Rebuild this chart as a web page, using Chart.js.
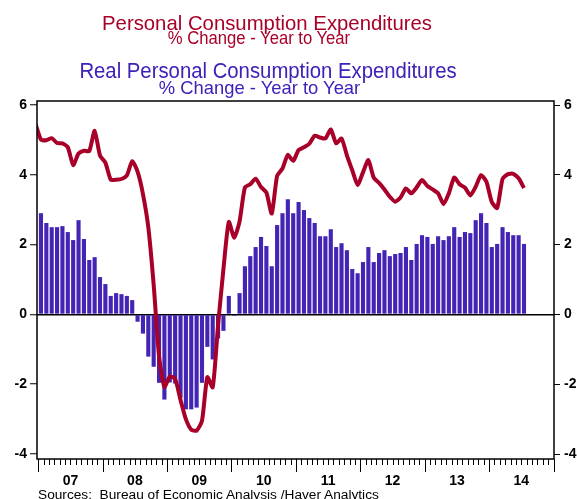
<!DOCTYPE html>
<html>
<head>
<meta charset="utf-8">
<script src="https://cdn.jsdelivr.net/npm/chart.js@4.4.1/dist/chart.umd.min.js"></script>
<style>
  html, body { margin: 0; padding: 0; width: 577px; height: 499px; overflow: hidden; background: #fff; }
  #wrap { position: absolute; left: 0; top: 0; width: 590px; height: 499px; }
  .t { position: absolute; width: 600px; text-align: center; white-space: nowrap;
       font-family: "Liberation Sans", Arial, sans-serif; transform-origin: 50% 50%; }
  #src { position: absolute; left: 38px; top: 487.5px; font-family: "Liberation Sans", Arial, sans-serif;
         font-size: 13.7px; line-height: 13.7px; color: #000; white-space: pre; }
</style>
</head>
<body>
<div id="wrap"><canvas id="c" width="590" height="499"></canvas></div>
<div class="t" style="left:-32.7px; top:11.5px; font-size:21px; line-height:21px; color:#A80028; transform:scaleX(0.968);">Personal Consumption Expenditures</div>
<div class="t" style="left:-41.3px; top:30.2px; font-size:17.5px; line-height:17.5px; color:#A80028; transform:scaleX(0.951);">% Change - Year to Year</div>
<div class="t" style="left:-32.5px; top:61.1px; font-size:21.5px; line-height:21.5px; color:#4020B8; transform:scaleX(0.945);">Real Personal Consumption Expenditures</div>
<div class="t" style="left:-40.5px; top:78.9px; font-size:18.4px; line-height:18.4px; color:#4020B8;">% Change - Year to Year</div>
<div id="src">Sources:  Bureau of Economic Analysis /Haver Analytics</div>
<script>
// Year labels on the x axis (2007 .. 2014)
const yearLabels = ['07', '08', '09', '10', '11', '12', '13', '14'];
// Left / right y-axis tick values
const yTicks = [-4, -2, 0, 2, 4, 6];

// Nominal PCE, % change y/y, monthly from Dec 2006 to Jul 2014
const pceNominal = [
  5.45,
  5.01, 4.99, 5.05, 4.91, 4.90, 4.79, 4.28, 4.61, 4.69, 4.68, 5.26, 4.55,
  4.35, 3.86, 3.86, 3.88, 3.98, 4.39, 4.09, 3.45, 2.50, 0.85, -1.20, -2.08,
  -1.78, -1.85, -2.45, -3.00, -3.30, -3.33, -3.05, -1.80, -2.09, -0.30, 1.30, 2.65,
  2.20, 2.66, 3.64, 3.73, 3.89, 3.65, 3.49, 2.89, 3.97, 4.18, 4.57, 4.40,
  4.71, 4.79, 4.89, 5.12, 5.07, 5.04, 5.30, 4.90, 5.04, 4.56, 4.13, 3.71,
  4.07, 4.42, 3.92, 3.77, 3.58, 3.37, 3.23, 3.35, 3.61, 3.47, 3.64, 3.85,
  3.68, 3.58, 3.47, 3.16, 3.47, 3.92, 3.73, 3.63, 3.41, 3.66, 3.99, 3.80,
  3.22, 3.05, 3.88, 4.02, 4.03, 3.90, 3.62
];

// Real PCE, % change y/y, monthly from Jan 2007 to Jul 2014
const pceReal = [
  2.90, 2.62, 2.50, 2.50, 2.53, 2.36, 2.13, 2.70, 2.16, 1.56, 1.64, 1.07,
  0.87, 0.53, 0.61, 0.58, 0.53, 0.41, -0.21, -0.55, -1.21, -1.50, -1.96, -2.44,
  -1.95, -1.98, -2.39, -2.72, -2.72, -2.67, -1.96, -0.93, -1.29, -0.69, -0.47, 0.53,
  -0.04, 0.61, 1.38, 1.67, 1.93, 2.22, 1.96, 1.38, 2.56, 2.90, 3.30, 2.90,
  3.22, 2.99, 2.76, 2.62, 2.24, 2.24, 2.44, 1.93, 2.04, 1.84, 1.30, 1.18,
  1.50, 1.93, 1.50, 1.76, 1.84, 1.67, 1.73, 1.76, 1.93, 1.56, 2.02, 2.27,
  2.22, 2.02, 2.24, 2.13, 2.24, 2.50, 2.22, 2.36, 2.33, 2.70, 2.90, 2.62,
  1.93, 2.02, 2.50, 2.36, 2.27, 2.27, 2.02
];

// month index 0 = Jan 2007
const nominalPoints = pceNominal.map((v, i) => ({ x: i - 1, y: v }));
const realPoints = pceReal.map((v, i) => ({ x: i, y: v }));

const FONT = "'Liberation Sans', Arial, sans-serif";
const RED = '#A80028';
const BAR = '#4424B4';

const axisDecor = {
  id: 'axisDecor',
  afterDraw(chart) {
    const { ctx, chartArea: a, scales: { x } } = chart;
    ctx.save();
    ctx.strokeStyle = '#000';
    ctx.lineWidth = 1;
    for (let m = 0; m <= yearLabels.length * 12; m++) {
      const px = Math.round(x.getPixelForValue(m - 0.5)) + 0.5;
      const len = m % 12 === 0 ? 13 : 6;
      ctx.beginPath();
      ctx.moveTo(px, a.bottom);
      ctx.lineTo(px, a.bottom + len);
      ctx.stroke();
    }
    ctx.lineWidth = 1.5;
    ctx.strokeRect(a.left, a.top, a.right - a.left, a.bottom - a.top);
    ctx.restore();
  }
};

const yAxisCommon = {
  min: -4.143,
  max: 6.115,
  afterBuildTicks: s => { s.ticks = yTicks.map(v => ({ value: v })); },
  border: { display: false },
  ticks: {
    color: '#000',
    font: { family: FONT, size: 14, weight: 'bold' },
    callback: v => String(v)
  }
};

new Chart(document.getElementById('c'), {
  type: 'bar',
  data: {
    datasets: [
      {
        type: 'line',
        data: nominalPoints,
        borderColor: RED,
        borderWidth: 4,
        pointRadius: 0,
        tension: 0.2,
        fill: false,
        order: 0,
        yAxisID: 'y'
      },
      {
        type: 'bar',
        data: realPoints,
        backgroundColor: BAR,
        borderWidth: 0,
        barPercentage: 0.77,
        categoryPercentage: 1,
        order: 1,
        yAxisID: 'y'
      }
    ]
  },
  plugins: [axisDecor],
  options: {
    responsive: false,
    animation: false,
    devicePixelRatio: 1,
    layout: { padding: { top: 101, left: 0, right: 0, bottom: 0 } },
    plugins: { legend: { display: false }, tooltip: { enabled: false }, title: { display: false } },
    scales: {
      x: {
        type: 'linear',
        min: -0.74,
        max: 95.59,
        offset: false,
        grid: { display: false, drawTicks: true, tickLength: 13 },
        border: { display: false },
        afterBuildTicks: s => { s.ticks = yearLabels.map((_, k) => ({ value: 12 * k + 5.5 })); },
        ticks: {
          autoSkip: false,
          maxRotation: 0,
          padding: 1,
          color: '#000',
          font: { family: FONT, size: 14, weight: 'bold' },
          callback: (v, i) => yearLabels[i]
        },
        afterFit: s => { s.height = 40; }
      },
      y: Object.assign({}, yAxisCommon, {
        position: 'left',
        grid: {
          color: c => (c.tick && c.tick.value === 0) ? '#000' : 'rgba(0,0,0,0)',
          lineWidth: 1.5,
          tickColor: '#000',
          tickWidth: 1,
          tickLength: 7
        },
        ticks: Object.assign({}, yAxisCommon.ticks, { padding: 3 }),
        afterFit: s => { s.width = 37; }
      }),
      y2: Object.assign({}, yAxisCommon, {
        position: 'right',
        grid: { drawOnChartArea: false, tickColor: '#000', tickWidth: 1, tickLength: 6 },
        ticks: Object.assign({}, yAxisCommon.ticks, { padding: 4 }),
        afterFit: s => { s.width = 36; }
      })
    }
  }
});
</script>
</body>
</html>
